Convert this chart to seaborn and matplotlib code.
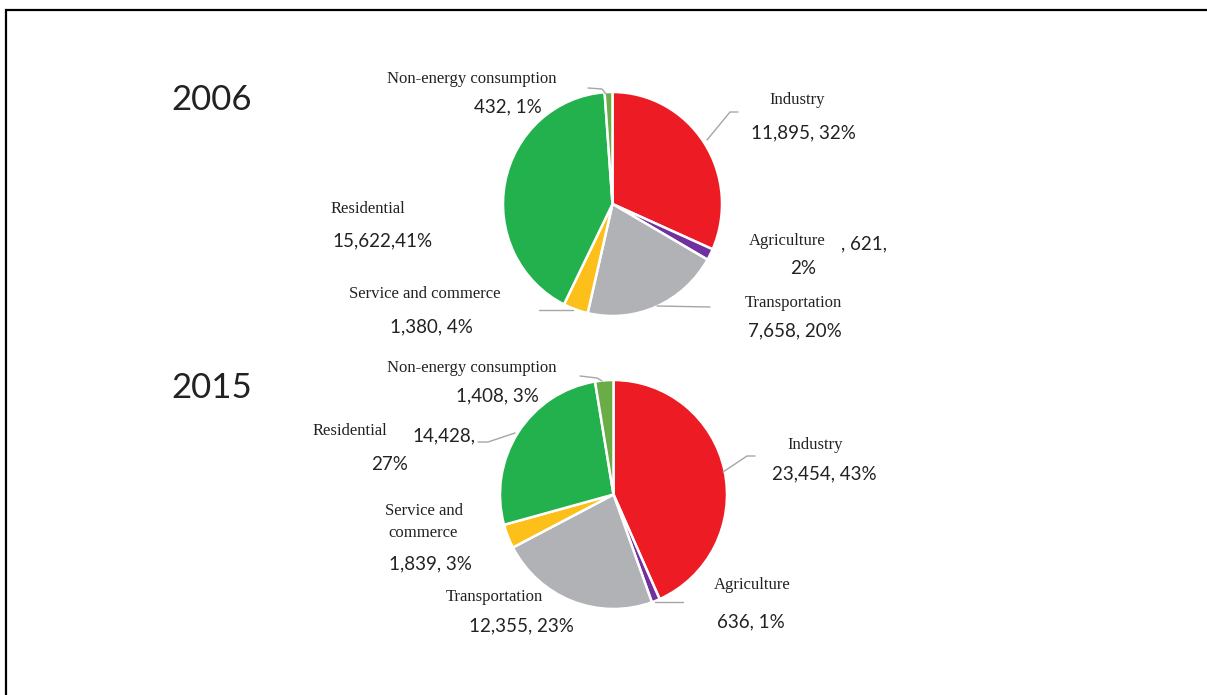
import matplotlib
matplotlib.use("Agg")
import matplotlib.pyplot as plt
import seaborn as sns

# Final energy consumption by sector
categories = ["Industry", "Agriculture", "Transportation",
              "Service and commerce", "Residential", "Non-energy consumption"]
values_2006 = [11895, 621, 7658, 1380, 15622, 432]
pct_2006 = [32, 2, 20, 4, 41, 1]
values_2015 = [23454, 636, 12355, 1839, 14428, 1408]
pct_2015 = [43, 1, 23, 3, 27, 3]
years = ["2006", "2015"]

colors = ["#ED1C24", "#7030A0", "#B1B2B5", "#FDC01A", "#22B14C", "#6AAC46"]

sns.set_theme(style="white")
plt.rcParams["font.family"] = ["Lato", "DejaVu Sans"]

W, H = 1207, 695
fig = plt.figure(figsize=(W / 100, H / 100), dpi=100)


def px_axes(x0, y0, x1, y1):
    return fig.add_axes([x0 / W, 1 - y1 / H, (x1 - x0) / W, (y1 - y0) / H])


def draw_pie(ax, vals):
    ax.pie(vals, colors=colors, startangle=90, counterclock=False,
           radius=1, wedgeprops=dict(edgecolor="white", linewidth=1.8))
    ax.set_xlim(-1.0, 1.0)
    ax.set_ylim(-1.0, 1.0)
    ax.set_aspect("auto")
    ax.axis("off")


ax1 = px_axes(503, 92, 722, 316)
draw_pie(ax1, values_2006)
ax2 = px_axes(500, 380, 727, 609)
draw_pie(ax2, values_2015)

# overlay in pixel coords for labels, leaders and the frame
ov = fig.add_axes([0, 0, 1, 1])
ov.set_xlim(0, W)
ov.set_ylim(H, 0)
ov.patch.set_alpha(0)
ov.axis("off")

serif = dict(family="Liberation Serif", fontsize=12, color="#222222",
             ha="center", va="center")
sans = dict(fontsize=13.5, color="#222222", ha="center", va="center")
leader = dict(color="#A6A6A6", lw=1.0)


def val(v, p, sep=", "):
    return f"{v:,}{sep}{p}%"


# frame (top and left only)
ov.plot([6, 6, W], [H, 10, 10], color="black", lw=1.6, solid_joinstyle="miter")

# year titles
ov.text(212, 100, years[0], fontsize=25, color="#222222", ha="center", va="center")
ov.text(212, 388, years[1], fontsize=25, color="#222222", ha="center", va="center")

# ---- 2006 labels
ov.text(472, 79, categories[5], **serif)
ov.text(508, 107, val(values_2006[5], pct_2006[5]), **sans)
ov.plot([588, 602, 606], [88, 89, 94], **leader)

ov.text(797, 100, categories[0], **serif)
ov.text(803, 133, val(values_2006[0], pct_2006[0]), **sans)
ov.plot([707, 730, 738], [140, 112, 112], **leader)

ov.text(787, 241, categories[1], **serif)
ov.text(864, 244, f", {values_2006[1]:,},", **sans)
ov.text(803, 269, f"{pct_2006[1]}%", **sans)

ov.text(793, 303, categories[2], **serif)
ov.text(795, 331, val(values_2006[2], pct_2006[2]), **sans)
ov.plot([657, 710], [306, 307], **leader)

ov.text(368, 209, categories[4], **serif)
ov.text(383, 241, val(values_2006[4], pct_2006[4], sep=","), **sans)

ov.text(425, 294, categories[3], **serif)
ov.text(431, 327, val(values_2006[3], pct_2006[3]), **sans)
ov.plot([539, 573], [310, 310], **leader)

# ---- 2015 labels
ov.text(472, 368, categories[5], **serif)
ov.text(497, 396, val(values_2015[5], pct_2015[5]), **sans)
ov.plot([580, 597, 602], [376, 378, 381], **leader)

ov.text(350, 431, categories[4], **serif)
ov.text(444, 436, f"{values_2015[4]:,},", **sans)
ov.text(390, 464, f"{pct_2015[4]}%", **sans)
ov.plot([478, 488, 515], [442, 442, 433], **leader)

ov.text(815, 445, categories[0], **serif)
ov.text(824, 474, val(values_2015[0], pct_2015[0]), **sans)
ov.plot([723, 747, 755], [472, 456, 456], **leader)

ov.text(752, 585, categories[1], **serif)
ov.text(751, 622, val(values_2015[1], pct_2015[1]), **sans)
ov.plot([655, 683], [602, 602], **leader)

ov.text(494, 597, categories[2], **serif)
ov.text(521, 626, val(values_2015[2], pct_2015[2]), **sans)

ov.text(424, 511, "Service and", **serif)
ov.text(423, 533, "commerce", **serif)
ov.text(430, 564, val(values_2015[3], pct_2015[3]), **sans)

fig.savefig("out.png", dpi=100, facecolor="white")
